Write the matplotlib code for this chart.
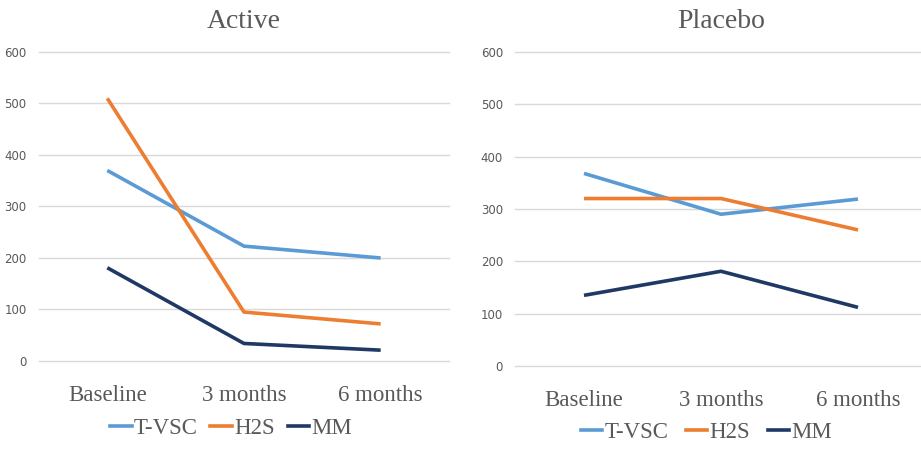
import matplotlib
matplotlib.use("Agg")
import matplotlib.pyplot as plt
from matplotlib.lines import Line2D

categories = ["Baseline", "3 months", "6 months"]
series = ["T-VSC", "H2S", "MM"]
active_tvsc = [370, 223, 200]
active_h2s = [510, 95, 72]
active_mm = [181, 34, 21]
placebo_tvsc = [368, 290, 319]
placebo_h2s = [320, 320, 260]
placebo_mm = [135, 181, 112]
yticks = [0, 100, 200, 300, 400, 500, 600]

COLORS = ["#5b9bd5", "#ed7d31", "#1f3864"]
GRID = "#d9d9d9"; TXT = "#595959"
SERIF = "Liberation Serif"

fig = plt.figure(figsize=(9.21, 4.51), dpi=100)
fig.patch.set_facecolor("white")

def panel(rect, title, data, legend_x, legend_y, colsp):
    ax = fig.add_axes(rect)
    x = range(len(categories))
    for vals, c in zip(data, COLORS):
        ax.plot(x, vals, color=c, lw=2.6, solid_capstyle="butt", zorder=3)
    ax.set_xlim(-0.5, 2.5); ax.set_ylim(0, 600)
    ax.set_yticks(yticks)
    ax.grid(axis="y", color=GRID, lw=1.0, zorder=0)
    for gl in ax.get_ygridlines():
        gl.set_clip_on(False)
    for s in ax.spines.values(): s.set_visible(False)
    ax.tick_params(axis="y", length=0, pad=9, labelsize=8.5, labelcolor=TXT)
    ax.tick_params(axis="x", length=0, pad=17)
    ax.set_xticks(list(x))
    ax.set_xticklabels(categories, fontsize=16.5, color=TXT, family=SERIF)
    ax.set_title(title, fontsize=20, color=TXT, family=SERIF, pad=17)
    handles = [Line2D([], [], color=c, lw=2.6) for c in COLORS]
    fig.legend(handles, series, loc="center", bbox_to_anchor=(legend_x, legend_y),
               ncol=3, frameon=False, handlelength=0.95, handletextpad=0.1,
               columnspacing=colsp, prop={"family": SERIF, "size": 16.5},
               labelcolor=TXT)
    return ax

panel([0.0423, 0.1996, 0.4452, 0.6851], "Active",
      [active_tvsc, active_h2s, active_mm], 0.251, 0.05, 0.55)
panel([0.5597, 0.1885, 0.4463, 0.6962], "Placebo",
      [placebo_tvsc, placebo_h2s, placebo_mm], 0.767, 0.04, 0.75)

fig.savefig("out.png", dpi=100, facecolor="white")
